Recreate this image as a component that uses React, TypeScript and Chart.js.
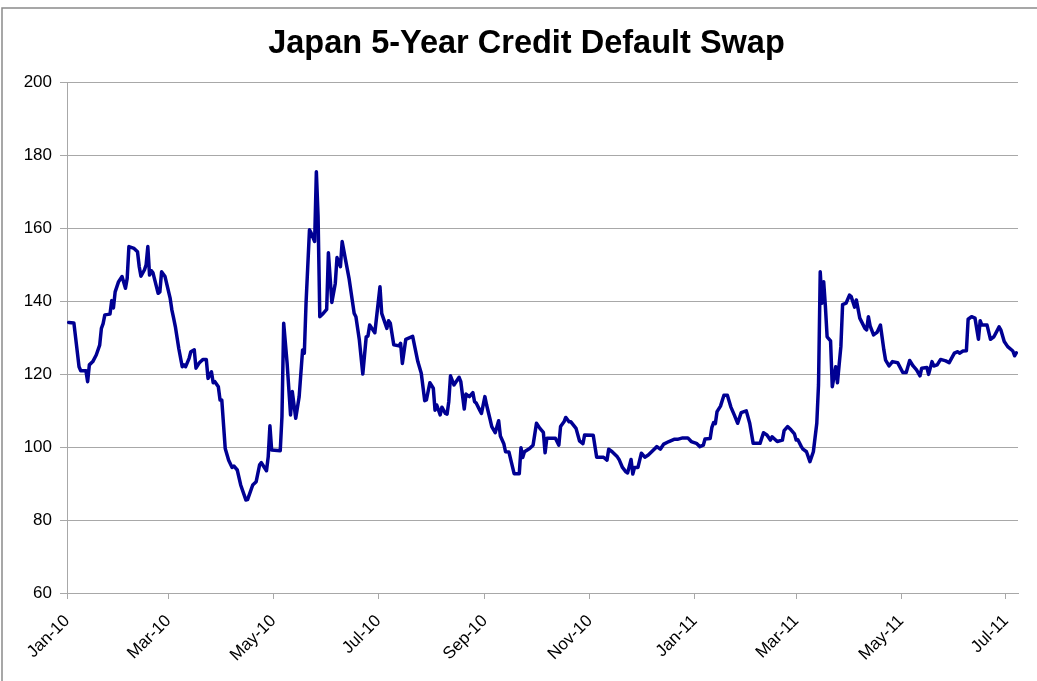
import React, { useEffect, useRef } from "react";
import { Chart, registerables } from "chart.js";

Chart.register(...registerables);

const TITLE = "Japan 5-Year Credit Default Swap";

// days since 1 Jan 2010
const dayOffsets: number[] = [
  1, 4, 7, 8, 11, 12, 13, 15, 17, 19, 20, 21, 22, 25, 26, 27, 28, 30, 32, 34,
  35, 36, 39, 41, 42, 43, 45, 46, 47, 48, 49, 50, 53, 54, 55, 57, 60, 61, 62, 63,
  65, 67, 68, 69, 71, 72, 74, 75, 77, 79, 81, 82, 84, 85, 86, 88, 89, 90, 92, 94,
  96, 97, 99, 101, 104, 105, 108, 110, 112, 113, 116, 117, 118, 119, 124, 125, 126, 128, 130, 131,
  133, 135, 137, 138, 139, 141, 142, 144, 145, 146, 147, 149, 151, 152, 154, 156, 157, 159, 160, 162,
  164, 167, 168, 170, 172, 174, 175, 176, 179, 182, 183, 186, 187, 188, 190, 193, 194, 195, 197, 201,
  202, 204, 206, 208, 209, 211, 213, 214, 215, 217, 218, 220, 221, 222, 223, 225, 228, 229, 231, 232,
  234, 236, 237, 238, 240, 241, 243, 244, 246, 247, 249, 251, 252, 254, 255, 257, 258, 260, 263, 264,
  265, 266, 269, 271, 273, 275, 277, 278, 279, 284, 286, 287, 289, 290, 292, 293, 296, 298, 300, 301,
  306, 308, 312, 314, 315, 317, 320, 321, 323, 325, 326, 328, 329, 330, 332, 334, 336, 338, 341, 343,
  345, 347, 350, 353, 355, 358, 361, 363, 366, 368, 370, 371, 374, 375, 376, 377, 378, 380, 382, 384,
  386, 388, 390, 392, 395, 397, 399, 403, 405, 407, 409, 410, 413, 416, 417, 419, 421, 423, 424, 425,
  427, 428, 430, 432, 434, 436, 437, 438, 439, 440, 441, 442, 444, 445, 447, 448, 450, 451, 453, 455,
  456, 458, 459, 461, 464, 465, 466, 467, 469, 471, 473, 475, 476, 478, 480, 483, 486, 488, 490, 492,
  494, 496, 497, 500, 501, 503, 504, 506, 508, 511, 513, 516, 518, 519, 521, 523, 524, 526, 528, 530,
  531, 532, 535, 537, 539, 542, 543, 545, 547, 550, 551, 552,
];

const cdsValues: number[] = [
  134.1, 134.0, 122.0, 120.9, 120.9, 117.9, 122.5, 123.4, 125.2, 127.9, 132.5, 133.8, 136.2, 136.4, 140.1, 138.1, 142.5, 145.3, 146.7, 143.5,
  146.2, 154.9, 154.4, 153.5, 149.4, 146.8, 148.5, 149.9, 154.9, 147.1, 148.3, 147.7, 142.1, 142.5, 148.0, 146.7, 140.7, 137.5, 135.3, 133.0,
  127.0, 122.0, 122.5, 122.0, 124.3, 126.1, 126.6, 121.6, 123.1, 124.0, 124.0, 118.8, 120.6, 117.6, 117.9, 116.5, 112.9, 112.9, 99.6, 96.4,
  94.4, 94.8, 93.7, 89.6, 85.5, 85.6, 89.6, 90.5, 95.1, 95.7, 93.5, 97.3, 105.8, 99.2, 99.0, 108.3, 133.9, 122.9, 108.8, 115.2,
  107.9, 113.8, 126.6, 125.7, 139.4, 159.5, 158.6, 156.3, 175.4, 163.1, 135.7, 136.6, 137.7, 153.2, 139.6, 144.8, 151.9, 149.4, 156.3, 151.2,
  146.2, 136.6, 135.7, 129.3, 120.0, 130.2, 130.4, 133.4, 131.3, 143.9, 136.6, 132.5, 134.6, 133.9, 128.0, 127.7, 128.4, 122.9, 129.5, 130.3,
  128.0, 123.4, 120.2, 112.7, 112.9, 117.6, 116.1, 110.1, 111.5, 108.8, 110.9, 109.2, 109.0, 112.4, 119.5, 117.0, 119.1, 117.9, 110.4, 114.5,
  113.8, 114.9, 112.4, 112.0, 110.1, 109.2, 113.8, 111.5, 107.6, 105.6, 103.9, 107.2, 103.0, 100.9, 98.7, 98.6, 96.6, 92.7, 92.7, 99.8,
  97.1, 98.7, 99.6, 100.5, 106.5, 105.1, 104.0, 98.4, 102.4, 102.4, 100.5, 105.6, 106.9, 108.1, 106.9, 106.9, 105.1, 101.7, 100.9, 103.3,
  103.2, 97.2, 97.2, 96.4, 99.4, 98.7, 97.3, 96.6, 94.4, 93.2, 92.9, 96.6, 92.6, 94.4, 94.4, 98.3, 97.2, 97.8, 99.2, 100.1,
  99.4, 100.8, 101.5, 102.1, 102.1, 102.5, 102.5, 101.5, 101.0, 100.1, 100.5, 102.2, 102.3, 105.4, 106.7, 106.4, 109.7, 111.2, 114.2, 114.2,
  111.0, 108.8, 106.5, 109.4, 109.9, 106.5, 101.0, 101.0, 103.9, 103.3, 101.9, 102.8, 101.5, 101.9, 104.5, 105.6, 104.7, 103.6, 101.9, 102.0,
  100.1, 99.4, 98.7, 96.0, 98.7, 106.5, 117.0, 148.0, 139.4, 145.3, 138.5, 130.2, 129.1, 116.5, 122.0, 117.6, 127.5, 139.0, 139.4, 141.6,
  141.2, 138.3, 140.3, 135.3, 132.5, 132.1, 135.7, 133.2, 130.7, 131.4, 133.4, 126.6, 123.8, 122.2, 123.4, 123.1, 120.4, 120.4, 123.7, 122.2,
  121.1, 119.5, 121.6, 121.8, 119.9, 123.4, 122.2, 122.5, 124.0, 123.6, 123.1, 125.7, 126.1, 125.7, 126.3, 126.4, 135.0, 135.7, 135.3, 129.5,
  134.6, 133.4, 133.4, 129.5, 130.2, 132.9, 132.1, 128.9, 127.5, 126.3, 125.0, 125.8,
];

const tickLabels: string[] = [
  "Jan-10", "Mar-10", "May-10", "Jul-10", "Sep-10",
  "Nov-10", "Jan-11", "Mar-11", "May-11", "Jul-11",
];

const Y_MIN = 60;
const Y_MAX = 200;
const Y_STEP = 20;
const X_MAX_DAY = 553;

const MONTHS = ["Jan", "Feb", "Mar", "Apr", "May", "Jun", "Jul", "Aug", "Sep", "Oct", "Nov", "Dec"];
const BASE = Date.UTC(2010, 0, 1);
const tickDays = tickLabels.map((l) => {
  const [m, y] = l.split("-");
  return Math.round((Date.UTC(2000 + Number(y), MONTHS.indexOf(m), 1) - BASE) / 86400000);
});

const FONT = "'Liberation Sans', Arial, sans-serif";
const GRID = "#a8a8a8";

const frame = {
  id: "frame",
  beforeDraw(chart: any) {
    const { ctx } = chart;
    ctx.save();
    ctx.fillStyle = "#ffffff";
    ctx.fillRect(0, 0, chart.width, chart.height);
    ctx.strokeStyle = "#8a8a8a";
    ctx.lineWidth = 1.5;
    ctx.strokeRect(2, 8, chart.width + 20, chart.height + 20);
    ctx.restore();
  },
  afterDraw(chart: any) {
    const { ctx } = chart;
    ctx.save();
    ctx.fillStyle = "#000";
    ctx.font = `bold 32.5px ${FONT}`;
    ctx.textAlign = "center";
    ctx.textBaseline = "alphabetic";
    ctx.fillText(TITLE, 526.5, 52.5);
    ctx.restore();
  },
};

export default function App() {
  const ref = useRef<HTMLCanvasElement | null>(null);

  useEffect(() => {
    if (!ref.current) return;
    const chart = new Chart(ref.current, {
      type: "line",
      data: {
        datasets: [
          {
            data: dayOffsets.map((d, i) => ({ x: d, y: cdsValues[i] })),
            borderColor: "#000093",
            borderWidth: 3.5,
            pointRadius: 0,
            tension: 0,
            borderJoinStyle: "round",
            borderCapStyle: "round",
            fill: false,
          },
        ],
      },
      options: {
        animation: false,
        responsive: false,
        maintainAspectRatio: false,
        layout: { padding: { left: 0, right: 19, top: 82, bottom: 0 } },
        plugins: {
          legend: { display: false },
          tooltip: { enabled: false },
          title: { display: false },
        },
        scales: {
          x: {
            type: "linear",
            min: 0,
            max: X_MAX_DAY,
            afterBuildTicks: (s: any) => {
              s.ticks = tickDays.map((v) => ({ value: v }));
            },
            afterFit: (s: any) => {
              s.height = 88;
            },
            ticks: {
              autoSkip: false,
              minRotation: 45,
              maxRotation: 45,
              color: "#000",
              font: { family: FONT, size: 17 },
              padding: 12,
              callback: (v: any) => {
                const i = tickDays.indexOf(Number(v));
                return i >= 0 ? tickLabels[i] : "";
              },
            },
            grid: { drawOnChartArea: false, drawTicks: true, tickLength: 6, color: GRID },
            border: { color: GRID, width: 1 },
          },
          y: {
            min: Y_MIN,
            max: Y_MAX,
            afterFit: (s: any) => {
              s.width = 67;
            },
            ticks: {
              stepSize: Y_STEP,
              color: "#000",
              font: { family: FONT, size: 17 },
              padding: 8,
            },
            grid: { color: GRID, tickLength: 7 },
            border: { color: GRID, width: 1 },
          },
        },
      },
      plugins: [frame],
    });
    return () => chart.destroy();
  }, []);

  return (
    <div style={{ position: "fixed", left: 0, top: 0, width: 1037, height: 681, background: "#fff" }}>
      <canvas ref={ref} width={1037} height={681} style={{ display: "block" }} />
    </div>
  );
}
